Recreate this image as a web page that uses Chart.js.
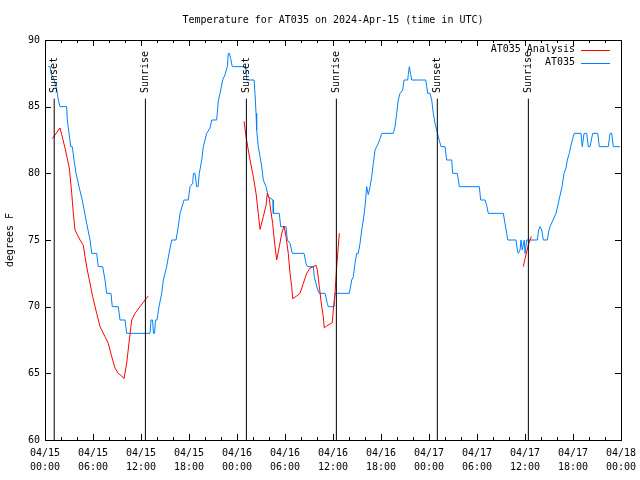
<!DOCTYPE html>
<html>
<head>
<meta charset="utf-8">
<script src="https://cdn.jsdelivr.net/npm/chart.js@4.4.0/dist/chart.umd.min.js"></script>
<style>
html, body { margin: 0; padding: 0; background: #fff; }
</style>
</head>
<body>
<canvas id="tempChart" width="640" height="480"></canvas>
<script>
// hours since 04/15 00:00 UTC
const tickDates = ['04/15', '04/15', '04/15', '04/15', '04/16', '04/16', '04/16', '04/16', '04/17', '04/17', '04/17', '04/17', '04/18'];
const tickTimes = ['00:00', '06:00', '12:00', '18:00', '00:00', '06:00', '12:00', '18:00', '00:00', '06:00', '12:00', '18:00', '00:00'];

const sunHours = [1.15, 12.55, 25.17, 36.42, 49.04, 60.42];
const sunNames = ['Sunset', 'Sunrise', 'Sunset', 'Sunrise', 'Sunset', 'Sunrise'];
const sunLineTop = 85.6;

// AT035 observations
const obsHours = [
    0.41, 0.63, 0.75, 0.96, 1.13, 1.38, 1.54, 1.66, 1.88, 2.71,
    2.79, 3.0, 3.21, 3.41, 3.63, 3.88, 4.25, 4.66, 5.21, 5.63,
    5.84, 6.46, 6.66, 7.21, 7.5, 7.71, 8.25, 8.41, 9.16, 9.38,
    10.0, 10.21, 13.13, 13.25, 13.44, 13.56, 13.69, 13.81, 14.0, 14.25,
    14.59, 14.79, 15.21, 15.5, 15.84, 16.38, 16.66, 16.88, 17.38, 17.91,
    18.13, 18.46, 18.56, 18.75, 18.96, 19.13, 19.29, 19.59, 19.79, 20.21,
    20.63, 20.84, 21.46, 21.66, 21.88, 22.21, 22.5, 22.79, 22.91, 23.04,
    23.21, 23.41, 25.09, 25.21, 26.13, 26.25, 26.38, 26.46, 26.66, 26.88,
    27.09, 27.29, 27.63, 27.91, 28.5, 28.54, 29.29, 29.46, 30.13, 30.29,
    30.63, 30.91, 32.38, 32.63, 32.79, 33.54, 33.66, 34.09, 34.29, 35.0,
    35.29, 35.41, 36.13, 36.25, 38.04, 38.34, 38.54, 38.75, 38.96, 39.16,
    39.38, 39.59, 39.79, 40.0, 40.21, 40.41, 40.63, 40.84, 41.04, 41.25,
    41.46, 41.66, 41.88, 42.09, 43.54, 43.75, 43.96, 44.16, 44.38, 44.71,
    44.88, 45.34, 45.41, 45.54, 45.71, 45.84, 47.59, 47.71, 47.84, 48.13,
    48.34, 48.54, 48.75, 48.96, 49.16, 49.5, 50.0, 50.21, 50.84, 50.96,
    51.54, 51.79, 54.29, 54.46, 55.0, 55.21, 55.41, 57.29, 57.5, 57.71,
    57.84, 58.88, 59.04, 59.16, 59.38, 59.5, 59.66, 59.91, 60.0, 60.21,
    61.54, 61.71, 61.88, 62.09, 62.29, 62.79, 63.0, 63.13, 63.5, 63.88,
    64.25, 64.63, 64.88, 65.13, 65.29, 65.54, 65.71, 65.96, 66.16, 67.0,
    67.16, 67.38, 67.71, 67.91, 68.13, 68.46, 69.09, 69.29, 70.41, 70.63,
    70.84, 71.04, 71.88
];
const obsTemps = [
    88, 88, 87.5, 87.25, 87, 86.5, 86, 85.5, 85, 85,
    84, 83, 82, 82, 81, 80, 79, 78, 76.25, 75,
    74, 74, 73, 73, 72, 71, 71, 70, 70, 69,
    69, 68, 68, 69, 69, 68, 68, 69, 69, 70,
    71, 72, 73, 74, 75, 75, 76, 77, 78, 78,
    79, 79.25, 80, 80, 79, 79, 80, 81, 82, 83,
    83.4, 84, 84, 85.4, 86, 87, 87.4, 88, 89, 89,
    88.6, 88, 88, 87, 87, 86, 84.5, 83.25, 82, 81.25,
    80.5, 79.5, 79, 78.25, 78, 77, 77, 76, 76, 75,
    74.75, 74, 74, 73.25, 73, 73, 72.25, 71.25, 71, 71,
    70.25, 70, 70, 71, 71, 72, 72.25, 73.25, 74, 74,
    74.75, 75.75, 76.5, 77.5, 79, 78.4, 79, 79.75, 80.75, 81.75,
    82, 82.25, 82.6, 83, 83, 83.5, 84.5, 85.5, 86, 86.25,
    87, 87, 87.4, 88, 87.4, 87, 87, 86.5, 86, 86,
    85.5, 84.5, 83.75, 83.25, 82.75, 82, 82, 81, 81, 80,
    80, 79, 79, 78, 78, 77.6, 77, 77, 76.25, 75.5,
    75, 75, 74.25, 74, 74.25, 75, 74.25, 75, 74, 75,
    75, 75.75, 76, 75.75, 75, 75, 75.75, 76, 76.5, 77,
    78, 79, 80, 80.4, 81, 81.5, 82, 82.6, 83, 83,
    82, 83, 83, 82, 82, 83, 83, 82, 82, 83,
    83, 82, 82
];

// AT035 analysis (null = gap)
const anaHours = [
    0.91, 1.88, 2.09, 2.5, 2.79, 3.04, 3.34, 3.54, 3.75, 4.04,
    4.38, 4.79, 5.0, 5.29, 5.63, 5.96, 6.46, 6.88, 7.5, 7.91,
    8.34, 8.75, 9.16, 9.59, 9.88, 10.21, 10.54, 10.84, 11.25, 11.88,
    12.5, 12.91, 18, 24.88, 25.13, 25.41, 25.71, 26.04, 26.38, 26.66,
    26.88, 27.29, 27.63, 27.79, 28.04, 28.21, 28.46, 28.66, 28.96, 29.29,
    29.59, 29.88, 30.13, 30.41, 30.63, 30.84, 30.96, 31.46, 31.88, 32.29,
    32.71, 33.13, 33.88, 34.04, 34.29, 34.59, 34.79, 34.91, 35.21, 35.63,
    35.91, 36.04, 36.25, 36.46, 36.66, 36.79, 48, 59.79, 60.0, 60.21,
    60.41, 60.63, 60.79
];
const anaTemps = [
    82.6, 83.4, 82.9, 81.9, 81.1, 80.4, 78.5, 77, 75.75, 75.4,
    75, 74.6, 73.75, 72.75, 71.75, 70.75, 69.5, 68.5, 67.75, 67.25,
    66.25, 65.4, 65, 64.8, 64.6, 65.75, 67.5, 69, 69.5, 70,
    70.5, 70.8, null, 83.9, 82.75, 81.75, 80.75, 79.75, 78.5, 77,
    75.8, 76.75, 77.6, 78.5, 78.1, 77.25, 76.25, 75, 73.5, 74.5,
    75.5, 76.05, 75.25, 74, 72.5, 71.5, 70.6, 70.8, 71, 71.75,
    72.5, 72.9, 73.1, 72.75, 71.5, 70, 69.25, 68.4, 68.55, 68.7,
    68.8, 69.75, 71, 73, 74.5, 75.5, null, 73, 73.6, 74.1,
    74.6, 75, 75.25
];

const seriesNames = ['AT035 Analysis', 'AT035'];
const seriesColors = ['#ff0000', '#0080ff'];
const titleText = 'Temperature for AT035 on 2024-Apr-15 (time in UTC)';

Chart.defaults.font.family = '"DejaVu Sans Mono", monospace';
Chart.defaults.font.size = 10;
Chart.defaults.color = '#000';

const sunSets = sunHours.map(h => ({
    data: [{x: h, y: 60}, {x: h, y: sunLineTop}],
    borderColor: '#000',
    borderWidth: 1,
    pointRadius: 0
}));

const extras = {
    id: 'extras',
    afterDraw(chart) {
        const {ctx, chartArea: a, scales: {x, y}} = chart;
        ctx.save();
        ctx.strokeStyle = '#000';
        ctx.lineWidth = 1;
        ctx.beginPath();
        // inward tick marks
        for (let v = 60; v <= 90; v += 5) {
            const py = Math.round(y.getPixelForValue(v)) + 0.5;
            ctx.moveTo(a.left, py); ctx.lineTo(a.left + 6, py);
            ctx.moveTo(a.right, py); ctx.lineTo(a.right - 6, py);
        }
        for (let h = 0; h <= 72; h += 2) {
            const px = Math.round(x.getPixelForValue(h)) + 0.5;
            const len = h % 6 === 0 ? 6 : 3;
            ctx.moveTo(px, a.bottom); ctx.lineTo(px, a.bottom - len);
            ctx.moveTo(px, a.top); ctx.lineTo(px, a.top + len);
        }
        ctx.stroke();
        ctx.strokeRect(Math.round(a.left) + 0.5, Math.round(a.top) + 0.5,
            Math.round(a.right - a.left), Math.round(a.bottom - a.top));

        ctx.fillStyle = '#000';
        ctx.font = '10px "DejaVu Sans Mono", monospace';
        // title
        ctx.textAlign = 'center';
        ctx.textBaseline = 'middle';
        ctx.fillText(titleText, (a.left + a.right) / 2, 20);

        // sunrise / sunset labels
        sunHours.forEach((h, i) => {
            ctx.save();
            ctx.translate(x.getPixelForValue(h), 93);
            ctx.rotate(-Math.PI / 2);
            ctx.textAlign = 'left';
            ctx.fillText(sunNames[i], 0, 0);
            ctx.restore();
        });

        // legend
        seriesNames.forEach((name, i) => {
            const ly = a.top + 9.5 + i * 13;
            ctx.textAlign = 'right';
            ctx.fillText(name, a.right - 46, ly);
            ctx.strokeStyle = seriesColors[i];
            ctx.beginPath();
            ctx.moveTo(a.right - 40, Math.round(ly) + 0.5);
            ctx.lineTo(a.right - 11, Math.round(ly) + 0.5);
            ctx.stroke();
        });
        ctx.restore();
    }
};

new Chart(document.getElementById('tempChart'), {
    type: 'line',
    data: {
        datasets: [
            ...sunSets,
            {
                label: seriesNames[0],
                data: anaHours.map((h, i) => ({x: h, y: anaTemps[i]})),
                borderColor: seriesColors[0],
                borderWidth: 1,
                pointRadius: 0,
                spanGaps: false
            },
            {
                label: seriesNames[1],
                data: obsHours.map((h, i) => ({x: h, y: obsTemps[i]})),
                borderColor: seriesColors[1],
                borderWidth: 1,
                pointRadius: 0
            }
        ]
    },
    options: {
        responsive: false,
        animation: false,
        layout: {padding: {top: 40, right: 19, left: 0, bottom: 0}},
        plugins: {
            legend: {display: false},
            title: {display: false},
            tooltip: {enabled: false}
        },
        scales: {
            x: {
                type: 'linear',
                min: 0,
                max: 72,
                grid: {display: false, drawTicks: false},
                border: {display: false},
                ticks: {
                    stepSize: 6,
                    padding: 6,
                    maxRotation: 0,
                    autoSkip: false,
                    font: {lineHeight: 1.4},
                    callback: (v, i) => [tickDates[i], tickTimes[i]]
                },
                afterFit: s => {
                    s.height = 40;
                    s.paddingLeft = 0;
                    s.paddingRight = 0;
                }
            },
            y: {
                min: 60,
                max: 90,
                grid: {display: false, drawTicks: false},
                border: {display: false},
                ticks: {stepSize: 5, padding: 5},
                title: {display: true, text: 'degrees F', padding: {top: 4, bottom: 0}},
                afterFit: s => { s.width = 45; }
            }
        }
    },
    plugins: [extras]
});
</script>
</body>
</html>
